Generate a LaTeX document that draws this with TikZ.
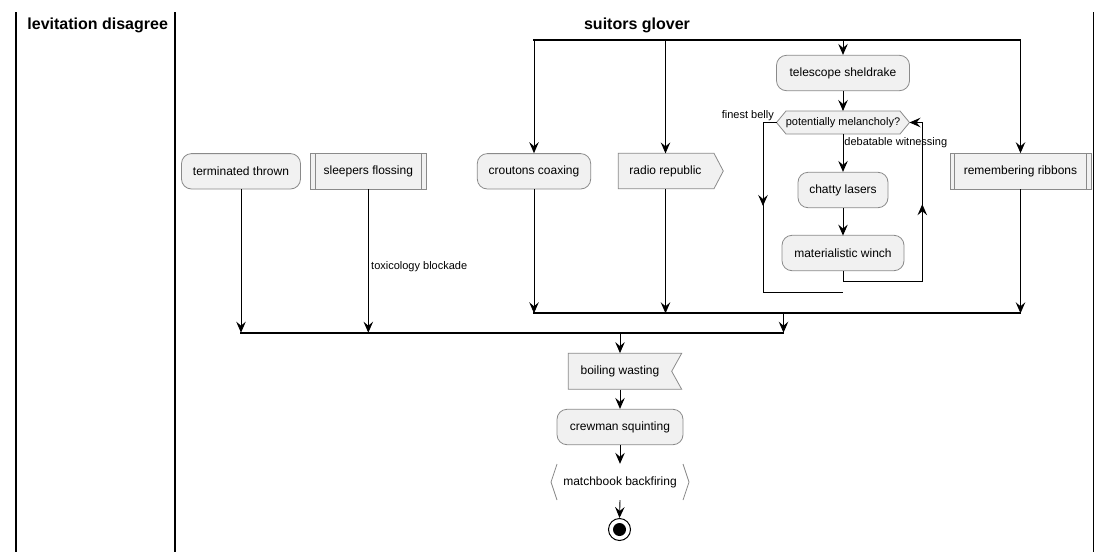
\documentclass[tikz,border=0pt]{standalone}
\usepackage{fontspec}
\setmainfont{Liberation Sans}
\usetikzlibrary{arrows.meta,decorations.markings}
\definecolor{actfill}{HTML}{F1F1F1}
\definecolor{actline}{HTML}{8A8A8A}
\newcommand{\fsz}[1]{\fontsize{#1}{#1}\selectfont}
\tikzset{
  box/.style={draw=actline, fill=actfill, line width=0.8pt, minimum height=35.4pt, inner sep=0pt, font=\fsz{12}},
  roundbox/.style={box, rounded corners=10pt},
  plain/.style={inner sep=0pt, minimum height=36pt, font=\fsz{12}},
  shapeline/.style={draw=actline, fill=actfill, line width=0.8pt},
  inner/.style={draw=actline, line width=0.8pt},
  flow/.style={line width=0.9pt, -{Stealth[length=11pt,width=9.5pt,inset=4pt]}},
  line/.style={line width=0.9pt},
  lbl/.style={font=\fsz{11}, inner sep=1pt},
  bar/.style={line width=2pt},
  lane/.style={line width=1.5pt},
  ttl/.style={font=\fsz{16}\bfseries, inner sep=0pt},
  midtip/.style={postaction={decorate, decoration={markings, mark=at position #1 with {\arrow{Stealth[length=11pt,width=9.5pt,inset=4pt]}}}}}
}
\begin{document}
\begin{tikzpicture}[x=1pt,y=-1pt]
\useasboundingbox (0,0) rectangle (1112,552);

% swimlanes
\draw[lane] (16,12) -- (16,552);
\draw[lane] (175,12) -- (175,552);
\draw[lane] (1093.5,12) -- (1093.5,552);
\node[ttl] (t1) at (97.7,25.5) {levitation disagree};
\node[ttl] (t2) at (637,25.5) {suitors glover};

% bars
\coordinate (fkL) at (533,40);
\coordinate (fkR) at (1020.5,40);
\draw[bar] (fkL) -- (fkR);
\coordinate (jnL) at (533,313.3);
\coordinate (jnR) at (1020.5,313.3);
\draw[bar] (jnL) -- (jnR);
\coordinate (jnOut) at (783.5,313.3);
\coordinate (oL) at (240,332.7);
\coordinate (oR) at (783.5,332.7);
\draw[bar] (oL) -- (oR);
\coordinate (oOut) at (620,332.7);

% left branch nodes
\node[roundbox, minimum width=119pt] (term) at (241,171.3) {terminated thrown};
\node[box, minimum width=116.7pt] (sleep) at (368.3,171.3) {sleepers flossing};
\draw[inner] ([xshift=5.5pt]sleep.north west) -- ([xshift=5.5pt]sleep.south west);
\draw[inner] ([xshift=-5.5pt]sleep.north east) -- ([xshift=-5.5pt]sleep.south east);

% right branch nodes
\node[roundbox, minimum width=113.4pt] (crout) at (534,171.3) {croutons coaxing};
\filldraw[shapeline] (618.3,153.3) -- (714,153.3) -- (723.3,171) -- (714,188.7) -- (618.3,188.7) -- cycle;
\node[plain, minimum width=96pt, minimum height=35.4pt] (radio) at (665.5,171.3) {radio republic};
\node[roundbox, minimum width=133pt] (tele) at (843,73) {telescope sheldrake};
\filldraw[shapeline] (776.5,122.5) -- (786,111) -- (900,111) -- (909.5,122.5) -- (900,134) -- (786,134) -- cycle;
\node[inner sep=0pt, minimum width=133pt, minimum height=23pt, font=\fsz{11}] (dec) at (843,122.5) {potentially melancholy?};
\node[roundbox, minimum width=90pt] (chat) at (843,190) {chatty lasers};
\node[roundbox, minimum width=122pt] (winch) at (843,253) {materialistic winch};
\node[box, minimum width=141pt] (rem) at (1020.5,171.3) {remembering ribbons};
\draw[inner] ([xshift=5pt]rem.north west) -- ([xshift=5pt]rem.south west);
\draw[inner] ([xshift=-5.5pt]rem.north east) -- ([xshift=-5.5pt]rem.south east);

% lower chain
\filldraw[shapeline] (568.3,353.3) -- (681.7,353.3) -- (671.7,371.3) -- (681.7,389.3) -- (568.3,389.3) -- cycle;
\node[plain] (boil) at (620,371.3) {boiling wasting};
\node[roundbox, minimum width=126pt] (crew) at (620,427) {crewman squinting};
\node[plain] (match) at (620,482) {matchbook backfiring};
\draw[inner] (557,464) -- (551,482) -- (557,500);
\draw[inner] (683,464) -- (689,482) -- (683,500);
\node[circle, draw=black, line width=1pt, minimum size=22pt, inner sep=0pt] (stop) at (619.5,529.5) {};
\fill (stop.center) circle (6.5pt);

% fork arrows
\draw[flow] (crout.north |- fkL) -- (crout.north);
\draw[flow] (radio.north |- fkL) -- (radio.north);
\draw[flow] (tele.north |- fkL) -- (tele.north);
\draw[flow] (rem.north |- fkL) -- (rem.north);

% inner loop
\draw[flow] (tele.south) -- (dec.south |- 0,111);
\draw[flow] (dec.south) -- node[lbl, anchor=west, pos=0.22] (dw) {debatable witnessing} (chat.north);
\draw[flow] (chat.south) -- (winch.south |- 0,235.6);
\coordinate (loopR1) at (843,281);
\coordinate (loopR2) at (922.3,281);
\coordinate (loopR3) at (922.3,122.5);
\draw[flow, midtip=166pt] (winch.south) -- (loopR1) -- (loopR2) -- (loopR3) -- (909.5,122.5);
\coordinate (loopL1) at (763,122.5);
\coordinate (loopL2) at (763,292.7);
\coordinate (loopL3) at (843,292.7);
\draw[line, midtip=97pt] (776.5,122.5) -- (loopL1) -- (loopL2) -- (loopL3);
\node[lbl, anchor=east] (fb) at (775,116) {finest belly};

% join arrows
\draw[flow] (crout.south) -- (crout.south |- jnL);
\draw[flow] (radio.south) -- (radio.south |- jnL);
\draw[flow] (rem.south) -- (rem.south |- jnL);
\draw[flow] (jnOut) -- (oR);
\draw[flow] (term.south) -- (term.south |- oL);
\draw[flow] (sleep.south) -- (sleep.south |- oL);
\node[lbl, anchor=west] (tox) at (370,266.7) {toxicology blockade};

% lower chain arrows
\draw[flow] (oOut) -- (boil.north);
\draw[flow] (boil.south) -- (crew.north);
\draw[flow] (crew.south) -- (match.north);
\draw[flow] (match.south) -- (stop.north);
\end{tikzpicture}
\end{document}
